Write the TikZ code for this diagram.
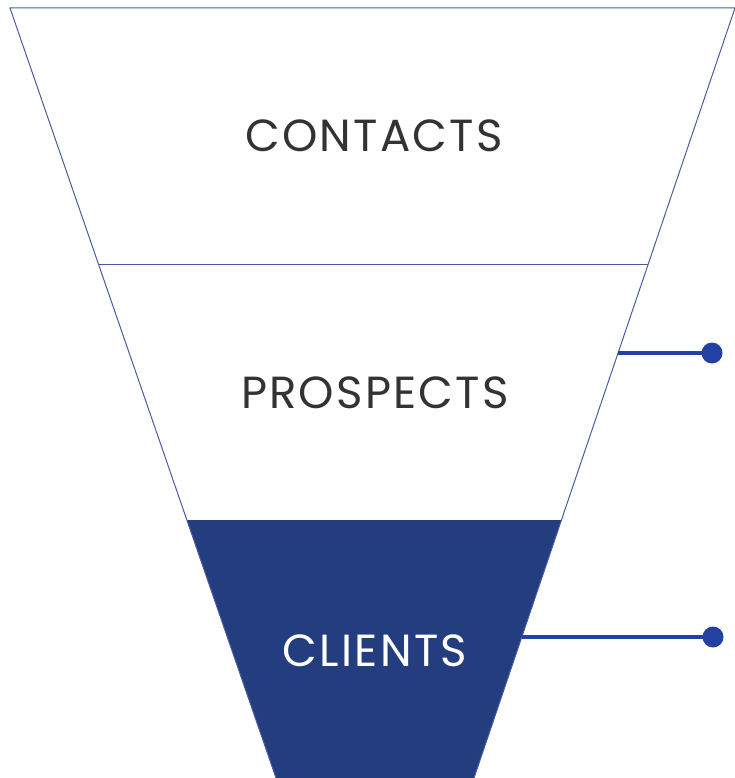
\documentclass[tikz,border=0pt]{standalone}
\usepackage{fontspec}
\setmainfont{Poppins}[LetterSpace=5]
\usepackage{tikz}
\usetikzlibrary{positioning}
\definecolor{funnelblue}{HTML}{233D7F}
\definecolor{linkblue}{HTML}{2341A0}
\definecolor{edgeblue}{HTML}{4A5C9E}
\definecolor{labelgray}{HTML}{333333}
\tikzset{%
  stage label/.style={
    text=labelgray,
    font=\fontsize{45}{50}\selectfont,
    inner sep=0pt
  },
  link dot/.style={
    circle, fill=linkblue, draw=none,
    minimum size=21pt, inner sep=0pt
  },
}

\begin{document}
\begin{tikzpicture}[x=1pt, y=-1pt]

\useasboundingbox (0,0) rectangle (735,778);

% funnel corners
\coordinate (top-left)  at (10,8);
\coordinate (top-right) at (735,8);
\coordinate (bot-left)  at (276,778);
\coordinate (bot-right) at (474,778);

% stage borders
\coordinate (mid1-left)  at (98.4,264);
\coordinate (mid1-right) at (648.2,264);
\coordinate (mid2-left)  at (186.9,520);
\coordinate (mid2-right) at (561.5,520);

% bottom stage
\fill [funnelblue] (mid2-left) -- (mid2-right) -- (bot-right) -- (bot-left) -- cycle;

% outline
\draw [edgeblue, line width=1pt] (bot-left) -- (top-left) -- (top-right) -- (bot-right);
\draw [edgeblue, line width=1pt] (mid1-left) -- (mid1-right);

%%%%%%%%%%%%%%%%%%%%%%%%%%%%%%%%%%%%%%%%%%%%%%%%%%%%%%%%%%%%%%%%%%%%%%%%%%%%%
% labels

\node [stage label] (contacts)  at (374,136) {CONTACTS};
\node [stage label] (prospects) at (375,393) {PROSPECTS};
\node [stage label, text=white] (clients) at (375,651) {CLIENTS};

%%%%%%%%%%%%%%%%%%%%%%%%%%%%%%%%%%%%%%%%%%%%%%%%%%%%%%%%%%%%%%%%%%%%%%%%%%%%%
% connections

\coordinate (prospects-edge) at (618,353);
\coordinate (clients-edge)   at (521.5,637);
\node [link dot] (prospects-dot) at (712,353) {};
\node [link dot] (clients-dot)   at (713,637) {};

\foreach \s in {prospects,clients}
  \draw [linkblue, line width=4pt] (\s-edge) -- (\s-dot.center);

\end{tikzpicture}
\end{document}
